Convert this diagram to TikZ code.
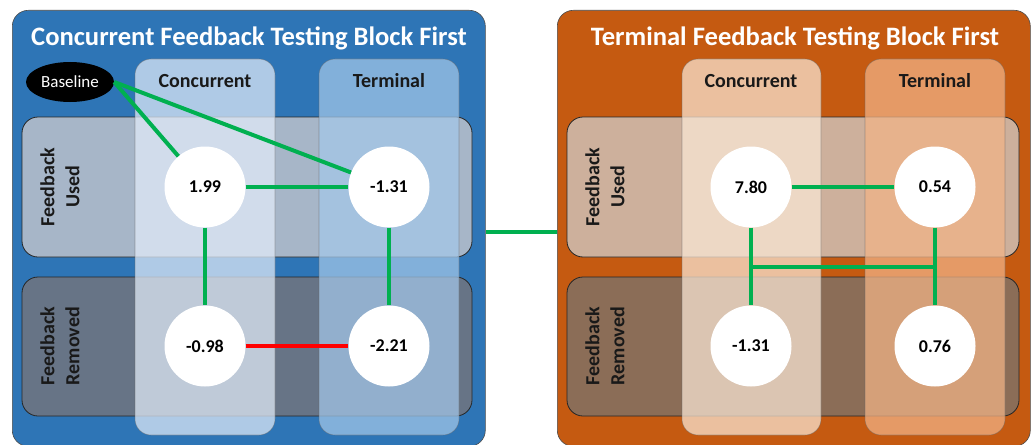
\documentclass[tikz,border=0pt]{standalone}
\usepackage{fontspec}
\setmainfont{Carlito}
\usetikzlibrary{calc,shapes.geometric}

\definecolor{blueBG}{RGB}{46,117,182}
\definecolor{orangeBG}{RGB}{197,90,17}
\definecolor{linkGreen}{RGB}{0,176,80}
\definecolor{linkRed}{RGB}{255,0,0}

\begin{document}
\begin{tikzpicture}[x=1pt,y=-1pt,
panel/.style = {draw=black!70,line width=0.6pt,rounded corners=16pt},
rowbox/.style = {draw=black!85,line width=0.8pt,rounded corners=16pt},
colbox/.style = {draw=black!60,draw opacity=0.5,line width=0.6pt,
        fill opacity=0.72,rounded corners=16pt},
value/.style = {circle,fill=white,minimum size=81pt,inner sep=0pt,
        font=\fontsize{18}{20}\selectfont\bfseries},
head/.style = {font=\fontsize{20}{22}\selectfont\bfseries,text=black!90},
side/.style = {rotate=90,align=center,font=\fontsize{20}{25}\selectfont\bfseries,
        text=black!90},
title/.style = {font=\fontsize{26.6}{30}\selectfont\bfseries,text=white},
link/.style = {line width=4pt,linkGreen},
badlink/.style = {line width=4pt,linkRed}]

        \useasboundingbox (0,0) rectangle (1035,444);

        % outer panels
        \node[panel,fill=blueBG,minimum width=473pt,minimum height=436pt,
                anchor=north west] (L_PANEL) at (12,10) {};
        \node[panel,fill=orangeBG,minimum width=473pt,minimum height=436pt,
                anchor=north west] (R_PANEL) at (557,10) {};
        \node[title] at (249,38) {Concurrent Feedback Testing Block First};
        \node[title] at (795,38) {Terminal Feedback Testing Block First};

        % rows
        \filldraw[rowbox,fill={rgb,255:red,167;green,182;blue,200}] (22,117) rectangle (472,257);
        \filldraw[rowbox,fill={rgb,255:red,103;green,116;blue,134}] (22,277) rectangle (472,416);
        \filldraw[rowbox,fill={rgb,255:red,205;green,176;blue,156}] (567,117) rectangle (1019,257);
        \filldraw[rowbox,fill={rgb,255:red,139;green,109;blue,87}] (567,277) rectangle (1019,416);

        % columns
        \filldraw[colbox,fill={rgb,255:red,226;green,236;blue,249}] (135,59) rectangle (275,435);
        \filldraw[colbox,fill={rgb,255:red,163;green,199;blue,233}] (319,59) rectangle (459,435);
        \filldraw[colbox,fill={rgb,255:red,250;green,232;blue,214}] (682,59) rectangle (821,435);
        \filldraw[colbox,fill={rgb,255:red,242;green,180;blue,135}] (865,59) rectangle (1005,435);

        \node[head] at (205,81) {Concurrent};
        \node[head] at (389,81) {Terminal};
        \node[head] at (751,81) {Concurrent};
        \node[head] at (935,81) {Terminal};

        \node[side] at (60,187) {Feedback\\Used};
        \node[side] at (60,346) {Feedback\\Removed};
        \node[side] at (605,187) {Feedback\\Used};
        \node[side] at (605,346) {Feedback\\Removed};

        % baseline and cells
        \node[ellipse,fill=black,text=white,minimum width=88pt,minimum height=40pt,
                inner sep=0pt,font=\fontsize{17}{20}\selectfont] (BASE) at (70,82) {Baseline};

        \node[value] (L_CU) at (205,187) {1.99};
        \node[value] (L_TU) at (389,187) {-1.31};
        \node[value] (L_CR) at (205,346) {-0.98};
        \node[value] (L_TR) at (389,346) {-2.21};

        \node[value] (R_CU) at (751,187) {7.80};
        \node[value] (R_TU) at (935,187) {0.54};
        \node[value] (R_CR) at (751,346) {-1.31};
        \node[value] (R_TR) at (935,346) {0.76};

        \draw[link] (BASE.east) -- (L_CU);
        \draw[link] (BASE.east) -- (L_TU);
        \draw[link] (L_CU) -- (L_TU);
        \draw[link] (L_CU) -- (L_CR);
        \draw[link] (L_TU) -- (L_TR);
        \draw[badlink] (L_CR) -- (L_TR);

        \draw[link] (R_CU) -- (R_TU);
        \draw[link] (R_CU) -- (R_CR);
        \draw[link] (R_TU) -- (R_TR);
        \draw[link] ($(R_CU)!0.5!(R_CR)$) -- ($(R_TU)!0.5!(R_TR)$);

        \draw[link] ([yshift=-3.5pt]L_PANEL.east) -- ([yshift=-3.5pt]R_PANEL.west);

    \end{tikzpicture}
\end{document}
